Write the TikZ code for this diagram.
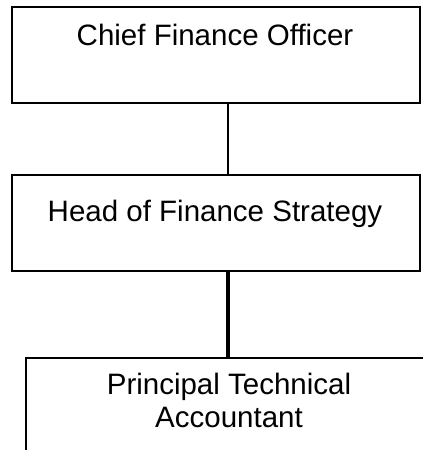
\documentclass[tikz,border=0pt]{standalone}
\usepackage{fontspec}
\setmainfont{Liberation Sans}
\begin{document}
\begin{tikzpicture}[x=1pt,y=-1pt,
  orgbox/.style={draw=black, line width=1.5pt, minimum width=408pt, minimum height=96pt, inner sep=0pt, anchor=north west},
  boxtext/.style={anchor=base, inner sep=0pt, align=center, font=\fontsize{29.5}{33}\selectfont},
  thinlink/.style={line width=1.6pt},
  thicklink/.style={line width=3.6pt}]
\useasboundingbox (0,0) rectangle (423,450);
\clip (0,0) rectangle (423,450);
\fill[white] (0,0) rectangle (423,450);
\node[orgbox] (b1) at (11,6) {};
\node[orgbox] (b2) at (11,174) {};
\node[orgbox] (b3) at (25,357) {};
\node[boxtext] (t1) at (215,45) {Chief Finance Officer};
\node[boxtext] (t2) at (215,221) {Head of Finance Strategy};
\node[boxtext] (t3) at (229,427) {Principal Technical\\Accountant};
\coordinate (cx) at (228,0);
\draw[thinlink] (b1.south -| cx) -- (b2.north -| cx);
\draw[thicklink] (b2.south -| cx) -- (b3.north -| cx);
\end{tikzpicture}
\end{document}
